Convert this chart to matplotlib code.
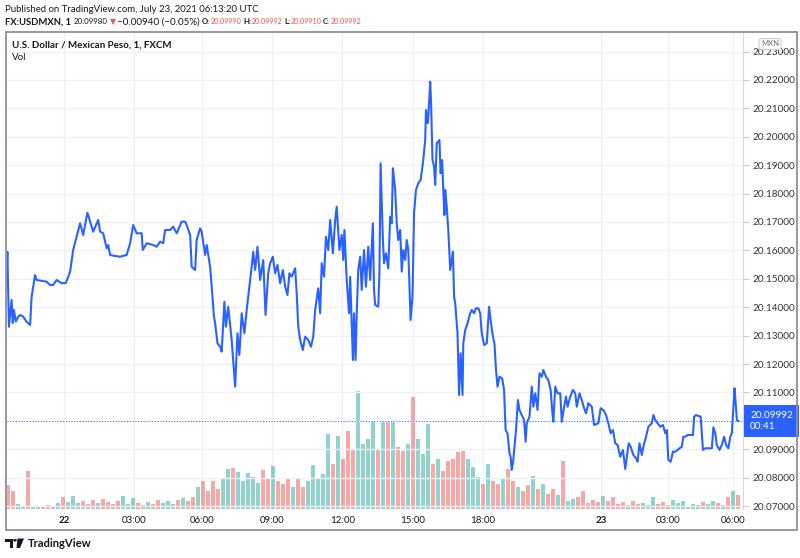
import numpy as np
import matplotlib
matplotlib.use("Agg")
import matplotlib.pyplot as plt
from matplotlib.patches import Rectangle, Polygon, Circle
import matplotlib.transforms as mtrans

plt.rcParams['font.family'] = ['Lato', 'DejaVu Sans']

# ---------------- data ----------------
# bar index in minutes relative to 22 Jul 00:00 (compressed trading-time axis)
minutes = [
    -148, -147, -143, -136, -133, -130, -125, -119, -113, -106, -97, -88,
    -84, -75, -71, -45, -36, -28, -19, -6, 5, 16, 24, 33,
    42, 50, 61, 68, 76, 89, 94, 102, 111, 115, 120, 133,
    146, 163, 172, 180, 189, 202, 205, 215, 232, 241, 250, 258,
    263, 276, 284, 293, 306, 315, 319, 328, 332, 341, 345, 354,
    358, 367, 371, 380, 384, 390, 393, 399, 406, 410, 417, 421,
    427, 436, 445, 451, 456, 462, 469, 475, 482, 488, 492, 497,
    503, 510, 518, 524, 531, 536, 543, 549, 555, 562, 569, 575,
    581, 586, 592, 601, 605, 609, 614, 621, 627, 635, 642, 648,
    653, 661, 666, 670, 676, 681, 687, 692, 699, 705, 709, 716,
    722, 726, 729, 735, 741, 744, 748, 751, 754, 758, 761, 765,
    770, 774, 780, 785, 791, 796, 803, 806, 809, 817, 820, 823,
    829, 832, 837, 843, 848, 852, 855, 861, 865, 869, 874, 878,
    882, 887, 891, 895, 901, 906, 910, 915, 921, 927, 933, 939,
    941, 945, 947, 952, 954, 958, 962, 965, 969, 976, 979, 983,
    986, 989, 991, 995, 999, 1004, 1011, 1014, 1017, 1023, 1027, 1031,
    1036, 1038, 1043, 1049, 1056, 1060, 1066, 1071, 1077, 1082, 1086, 1092,
    1099, 1105, 1110, 1115, 1119, 1123, 1127, 1132, 1139, 1144, 1148, 1153,
    1158, 1161, 1164, 1168, 1175, 1180, 1184, 1190, 1196, 1200, 1203, 1210,
    1216, 1220, 1225, 1231, 1236, 1242, 1246, 1253, 1259, 1265, 1269, 1272,
    1277, 1283, 1290, 1294, 1298, 1305, 1309, 1316, 1323, 1329, 1333, 1340,
    1346, 1352, 1357, 1363, 1372, 1378, 1389, 1395, 1402, 1409, 1415, 1421,
    1427, 1433, 1439, 1446, 1453, 1459, 1463, 1468, 1473, 1480, 1487, 1491,
    1496, 1502, 1506, 1513, 1519, 1528, 1532, 1537, 1543, 1550, 1557, 1563,
    1567, 1571, 1577, 1583, 1589, 1595, 1600, 1606, 1610, 1615, 1621, 1628,
    1635, 1638, 1643, 1649, 1655, 1661, 1667, 1675, 1684, 1688, 1693, 1697,
    1704, 1710, 1716, 1721, 1727, 1732, 1736, 1740, 1743, 1746, 1749, 1753,
]
price = [
    20.15591, 20.15943, 20.13314, 20.14254, 20.13444, 20.13902, 20.13490, 20.13666, 20.13726, 20.13666, 20.13490, 20.13374,
    20.14370, 20.15134, 20.14958, 20.14898, 20.14782, 20.14782, 20.14958, 20.14842, 20.14852, 20.15250, 20.16014, 20.16482,
    20.16954, 20.16542, 20.17327, 20.17010, 20.16658, 20.17070, 20.16658, 20.16602, 20.16074, 20.16190, 20.15838, 20.15803,
    20.15778, 20.15838, 20.16250, 20.16894, 20.16602, 20.16602, 20.16014, 20.16250, 20.16190, 20.16130, 20.16306, 20.16250,
    20.16718, 20.16718, 20.16834, 20.16602, 20.17010, 20.17010, 20.16894, 20.16542, 20.15426, 20.15310, 20.16366, 20.16778,
    20.16658, 20.15838, 20.16190, 20.15426, 20.14722, 20.13666, 20.13434, 20.12730, 20.12610, 20.12434, 20.14194, 20.13314,
    20.14018, 20.12846, 20.11202, 20.13082, 20.12318, 20.13786, 20.13082, 20.13902, 20.14722, 20.15426, 20.15954, 20.15310,
    20.16130, 20.14958, 20.15662, 20.13726, 20.15194, 20.15546, 20.15778, 20.15194, 20.15486, 20.14842, 20.15310, 20.14722,
    20.14430, 20.15194, 20.15074, 20.15370, 20.14490, 20.13314, 20.12846, 20.12494, 20.12962, 20.12846, 20.12610, 20.12962,
    20.13902, 20.14666, 20.13786, 20.15546, 20.15074, 20.16482, 20.16014, 20.17070, 20.15898, 20.17070, 20.17538, 20.16014,
    20.16542, 20.15662, 20.16718, 20.14958, 20.13786, 20.15074, 20.13434, 20.12142, 20.13786, 20.12142, 20.13786, 20.15310,
    20.15778, 20.14606, 20.16014, 20.14722, 20.16130, 20.14958, 20.16954, 20.14606, 20.14078, 20.14018, 20.15194, 20.19066,
    20.16366, 20.15546, 20.15898, 20.15370, 20.17186, 20.16954, 20.18890, 20.18126, 20.16954, 20.16366, 20.16718, 20.15250,
    20.16014, 20.15662, 20.16366, 20.16014, 20.13550, 20.14370, 20.17306, 20.18126, 20.18362, 20.18478, 20.19066, 20.19886,
    20.20942, 20.20474, 20.20706, 20.21938, 20.21294, 20.19182, 20.18946, 20.18302, 20.19770, 20.19886, 20.18714, 20.19182,
    20.18126, 20.17246, 20.18126, 20.17538, 20.16718, 20.15310, 20.15954, 20.14370, 20.14138, 20.13082, 20.10910, 20.12378,
    20.10910, 20.12730, 20.13198, 20.13434, 20.13786, 20.13902, 20.13786, 20.13962, 20.13962, 20.13786, 20.13082, 20.12670,
    20.12730, 20.14018, 20.13434, 20.12962, 20.12730, 20.11790, 20.11202, 20.11554, 20.11498, 20.11086, 20.09678, 20.09562,
    20.08858, 20.08738, 20.08270, 20.08622, 20.09678, 20.10734, 20.10382, 20.10206, 20.10030, 20.09266, 20.09914, 20.10146,
    20.11202, 20.10498, 20.10970, 20.10382, 20.11674, 20.11554, 20.11790, 20.11554, 20.11438, 20.11086, 20.10382, 20.09970,
    20.11202, 20.10970, 20.10970, 20.09970, 20.10322, 20.10850, 20.10498, 20.10850, 20.11086, 20.10970, 20.10498, 20.10970,
    20.10734, 20.10442, 20.10266, 20.10618, 20.10498, 20.09854, 20.09914, 20.10442, 20.10382, 20.10206, 20.09914, 20.09562,
    20.09678, 20.09210, 20.09150, 20.08738, 20.08974, 20.08305, 20.08738, 20.09210, 20.09090, 20.08798, 20.08682, 20.08562,
    20.09210, 20.08798, 20.09090, 20.09442, 20.09794, 20.09914, 20.10206, 20.10030, 20.09914, 20.09794, 20.09854, 20.09562,
    20.09678, 20.08622, 20.08562, 20.08914, 20.08914, 20.08974, 20.09034, 20.09090, 20.09442, 20.09442, 20.09502, 20.09502,
    20.09502, 20.10146, 20.10206, 20.10171, 20.10146, 20.08974, 20.09034, 20.09034, 20.09034, 20.09773, 20.09562, 20.09150,
    20.08974, 20.09150, 20.09442, 20.09150, 20.09034, 20.09442, 20.09562, 20.10498, 20.11146, 20.10618, 20.10030, 20.09992,
]

# volume, one bar every 13 minutes starting at minute -146 (arbitrary units)
vol_start, vol_step = -146, 13
volume = [v * 20 for v in [
    24, 18, 5, 3, 38, 3, 2, 3, 4, 3, 6, 12, 7, 13, 6, 8, 5, 9, 6, 10,
    7, 5, 8, 13, 5, 11, 6, 4, 7, 5, 9, 6, 8, 5, 9, 11, 8, 12, 22, 28,
    18, 28, 20, 30, 40, 41, 37, 28, 36, 32, 26, 39, 30, 43, 28, 25, 30, 22, 30, 22,
    28, 44, 30, 35, 75, 45, 73, 50, 78, 60, 118, 65, 70, 88, 60, 88, 88, 88, 62, 58,
    65, 112, 70, 55, 85, 45, 50, 38, 48, 50, 57, 58, 50, 42, 32, 25, 45, 28, 25, 30,
    40, 28, 22, 18, 24, 33, 20, 25, 15, 20, 14, 48, 8, 10, 12, 18, 6, 9, 7, 13,
    8, 12, 5, 7, 4, 8, 5, 6, 4, 12, 5, 7, 4, 9, 6, 8, 3, 5, 4, 7,
    5, 8, 6, 4, 12, 18, 14,
]]

tick_pos = [0, 182, 360, 542, 724, 906, 1088, 1396, 1570, 1740]
tick_lab = ['22', '03:00', '06:00', '09:00', '12:00', '15:00', '18:00', '23', '03:00', '06:00']
bold_labels = ['22', '23']
y_ticks = [round(20.07 + 0.01 * i, 2) for i in range(17)]
hidden_tick = 20.10          # covered by the last-price badge in the reference
last_price = 20.09992
countdown = '00:41'

# ---------------- figure ----------------
W, H = 800, 558
fig = plt.figure(figsize=(W / 100, H / 100), dpi=100)
fig.patch.set_facecolor('white')
FS = 7.0
INK = '#131722'
renderer = fig.canvas.get_renderer()


def fy(py):
    return 1 - py / H


def fit(t, width_px):
    """scale a text's font size so that it spans width_px pixels"""
    for _ in range(3):
        w = t.get_window_extent(renderer).width
        t.set_fontsize(t.get_fontsize() * width_px / w)
    return t


L, R, T, B = 7, 743, 32, 509
ax_v = fig.add_axes([L / W, 1 - B / H, (R - L) / W, (B - T) / H])
ax_p = ax_v.twinx()

GRID = '#eef0f5'
ax_v.set_xlim(-148, 1765)
ax_v.set_ylim(0, 477 * 20)
ax_v.set_yticks([])
ax_v.set_xticks(tick_pos)
ax_v.set_xticklabels(tick_lab)
for lab in ax_v.get_xticklabels():
    if lab.get_text() in bold_labels:
        lab.set_fontweight('bold')
ax_v.tick_params(axis='x', length=0, pad=5, labelsize=FS, labelcolor=INK)
ax_v.grid(axis='x', color=GRID, lw=1)
ax_v.set_axisbelow(True)
for s in ax_v.spines.values():
    s.set_visible(False)

vol_t = vol_start + vol_step * np.arange(len(volume))
p_now = np.interp(vol_t, minutes, price)
p_prev = np.interp(vol_t - vol_step, minutes, price)
cols = np.where(p_now >= p_prev, '#26a69a', '#ef5350')
ax_v.bar(vol_t, volume, width=vol_step * 0.8, color=cols, alpha=0.5, linewidth=0)

ax_p.set_ylim(20.06897, 20.23687)
ax_p.set_yticks(y_ticks)
ax_p.set_yticklabels(['' if abs(v - hidden_tick) < 1e-9 else f'{v:.5f}' for v in y_ticks])
ax_p.tick_params(axis='y', length=4, width=0.8, color='#c9ccd4', pad=3,
                 labelsize=7.2, labelcolor='#333333')
ax_p.grid(axis='y', color=GRID, lw=1)
for k, s in ax_p.spines.items():
    s.set_visible(k == 'right')
ax_p.spines['right'].set_color('#d6d9e0')

ax_p.axhline(last_price, color='#2962ff', lw=0.8, ls=(0, (1, 1.5)), alpha=0.8)
ax_p.plot(minutes, price, color='#2962ff', lw=1.5, solid_joinstyle='round', zorder=4)

tr = mtrans.blended_transform_factory(ax_p.transAxes, ax_p.transData)
ax_p.text(1.0 + 7 / (R - L), last_price, f'{last_price:.5f}\n{countdown}', transform=tr,
          ha='left', va='center', fontsize=7.2, color='white', linespacing=1.2,
          bbox=dict(boxstyle='square,pad=0.6', fc='#2962ff', ec='none'),
          zorder=10, clip_on=False)

# MXN badge
fig.text(770 / W, fy(44), 'MXN', fontsize=5.5, color='#6a6d78', ha='center', va='center',
         bbox=dict(boxstyle='round,pad=0.25', fc='white', ec='#c8cbd3', lw=0.8), zorder=10)

# outer frame
fig.patches.append(Rectangle((6 / W, fy(530)), (797 - 6) / W, (530 - 32) / H,
                             transform=fig.transFigure, fill=False, ec='#8e9099', lw=1.3))

# header line 1
fit(fig.text(5 / W, fy(10), 'Published on TradingView.com, July 23, 2021 06:13:20 UTC',
             fontsize=7.5, color=INK, va='center', ha='left'), 252)

# header line 2: (reference x, text, colour, weight, reference width)
RED = '#ef5350'
segs = [
    (5, 'FX:USDMXN, 1', INK, 'bold', 66),
    (74, '20.09980', INK, 'normal', 34),
    (110, '\u25bc', RED, 'normal', 6),
    (117, '\u22120.00940 (\u22120.05%)', INK, 'normal', 83),
    (202, 'O:', INK, 'bold', 8),
    (210, '20.09990', RED, 'normal', 31),
    (243, 'H:', INK, 'bold', 8),
    (251, '20.09992', RED, 'normal', 31),
    (284, 'L:', INK, 'bold', 6),
    (290, '20.09910', RED, 'normal', 31),
    (323, 'C:', INK, 'bold', 7),
    (330, '20.09992', RED, 'normal', 31),
]
end = 0
for x0, s, c, w, wid in segs:
    x = max(x0, end + 1)
    t = fig.text(x / W, fy(22), s, fontsize=6.5, color=c, weight=w, va='center', ha='left')
    fit(t, wid)
    if t.get_fontsize() > 7.2:
        t.set_fontsize(7.2)
    end = x + t.get_window_extent(renderer).width

fit(fig.text(12 / W, fy(45), 'U.S. Dollar / Mexican Peso, 1, FXCM', fontsize=FS,
             weight='bold', color=INK, va='center', ha='left'), 158)
fig.text(12 / W, fy(57.5), 'Vol', fontsize=FS, color=INK, va='center', ha='left')

# TradingView logo + wordmark
def P(px, py):
    return (px / W, fy(py))

fig.patches.append(Polygon([P(5, 538.5), P(13, 538.5), P(13, 548), P(9.5, 548), P(9.5, 542), P(5, 542)],
                           closed=True, transform=fig.transFigure, fc=INK, ec='none'))
fig.patches.append(Circle(P(15, 540.3), 1.8 / W, transform=fig.transFigure, fc=INK, ec='none'))
fig.patches.append(Polygon([P(17.5, 538.5), P(24, 538.5), P(20, 548), P(16.5, 548)],
                           closed=True, transform=fig.transFigure, fc=INK, ec='none'))
fit(fig.text(28 / W, fy(543.5), 'TradingView', fontsize=8.3, weight='bold', color=INK,
             va='center', ha='left'), 64)

fig.savefig('out.png', dpi=100, facecolor='white')
